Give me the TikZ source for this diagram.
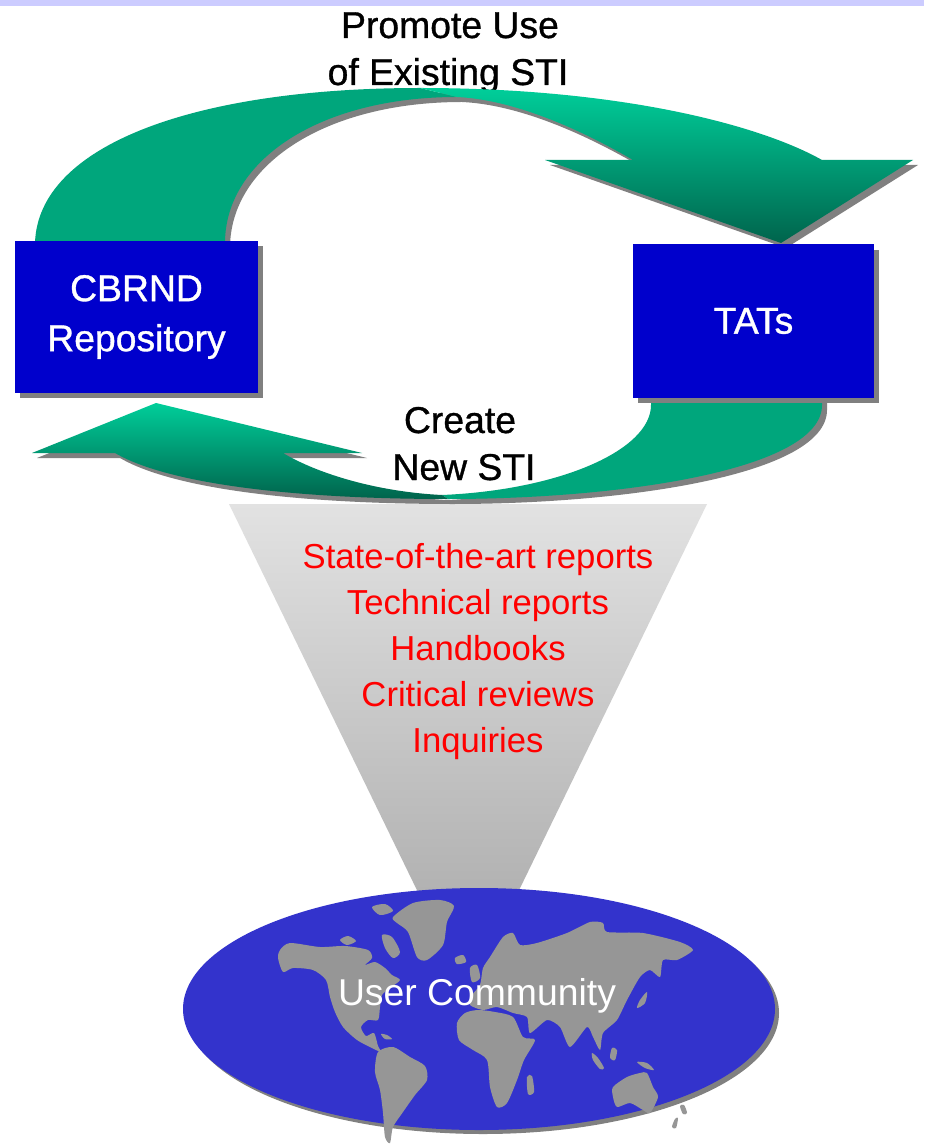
\documentclass[tikz,border=0pt]{standalone}
\usepackage{fontspec}
\setmainfont{Liberation Sans}
\newfontfamily\heavyfont{Liberation Sans}[FakeBold=0.9]
\usetikzlibrary{shadows}
\definecolor{boxblue}{RGB}{0,0,204}
\definecolor{shadowgray}{RGB}{128,128,128}
\definecolor{ringgreen}{RGB}{0,166,124}
\definecolor{ringlight}{RGB}{0,206,154}
\definecolor{ringdark}{RGB}{0,100,76}
\definecolor{globeblue}{RGB}{51,51,204}
\definecolor{landgray}{RGB}{150,150,150}
\definecolor{stripe}{RGB}{204,204,255}
\definecolor{funneltop}{RGB}{226,226,226}
\definecolor{funnelbottom}{RGB}{165,165,165}
\definecolor{itemred}{RGB}{255,0,0}
\begin{document}
\begin{tikzpicture}[x=0.75pt,y=-0.75pt,
  lbl/.style={font=\heavyfont\fontsize{28}{37.5}\selectfont, inner sep=0pt, anchor=base},
  item/.style={font=\fontsize{26}{34}\selectfont, text=itemred, inner sep=0pt, anchor=base},
  globelbl/.style={font=\fontsize{28}{37.5}\selectfont, text=white, inner sep=0pt, anchor=base},
  stibox/.style={fill=boxblue, text=white, inner sep=0pt, align=center,
    font=\heavyfont\fontsize{28}{37.5}\selectfont,
    drop shadow={shadow xshift=3.75pt, shadow yshift=-4pt, fill=shadowgray, opacity=1}},
  land/.style={fill=landgray},
  ringshadow/.style={fill=shadowgray},
  ringsolid/.style={fill=ringgreen},
  ringshade/.style={top color=ringlight, bottom color=ringdark}]
\useasboundingbox (0,0) rectangle (924,1144);
\fill[white] (0,0) rectangle (924,1144);
% top stripe
\fill[stripe] (0,0) rectangle (924,6);
% top label
\node[lbl] (promote) at (450,38) {Promote Use};
\node[lbl] (existing) at (448,85) {of Existing STI};
% funnel
\shade[top color=funneltop, bottom color=funnelbottom] (229,504) -- (707,504) -- (468,995) -- cycle;
% top arrow
\fill[ringshadow, shift={(5,5)}] (35,250) -- (35,243) .. controls (38,145) and (195,88) .. (420,88)
  .. controls (620,88) and (760,125) .. (822,160) -- (913,160) -- (781,243) -- (545,160) -- (633,160)
  .. controls (590,135) and (520,100) .. (457,97) .. controls (320,97) and (225,160) .. (225,243) -- (225,250) -- cycle;
\fill[ringsolid] (35,250) -- (35,243) .. controls (38,145) and (195,88) .. (420,88) -- (457,97)
  .. controls (320,97) and (225,160) .. (225,243) -- (225,250) -- cycle;
\shade[ringshade] (420,88) .. controls (620,88) and (760,125) .. (822,160) -- (913,160) -- (781,243)
  -- (545,160) -- (633,160) .. controls (590,135) and (520,100) .. (457,97) -- cycle;
% bottom arrow
\fill[ringshadow, shift={(5,5)}] (156,403) -- (362,453) -- (283,453) .. controls (320,475) and (380,492) .. (442,495)
  .. controls (560,490) and (651,450) .. (651,405) -- (651,398) -- (822,398) -- (822,405)
  .. controls (822,470) and (620,499) .. (448,499) .. controls (300,499) and (170,485) .. (115,453) -- (32,453) -- cycle;
\fill[ringsolid] (442,495) .. controls (560,490) and (651,450) .. (651,405) -- (651,398) -- (822,398) -- (822,405)
  .. controls (822,470) and (620,499) .. (448,499) -- cycle;
\shade[ringshade] (156,403) -- (362,453) -- (283,453) .. controls (320,475) and (380,492) .. (442,495)
  -- (448,499) .. controls (300,499) and (170,485) .. (115,453) -- (32,453) -- cycle;
% boxes
\node[stibox, minimum width=182.25pt, minimum height=114pt] (cbrnd) at (136.5,317) {CBRND\\Repository};
\node[stibox, minimum width=180.75pt, minimum height=114.75pt] (tats) at (753.5,321) {TATs};
% bottom label
\node[lbl] (create) at (460,433) {Create};
\node[lbl] (newsti) at (464,480) {New STI};
% red items
\node[item] (i1) at (478,568) {State-of-the-art reports};
\node[item] (i2) at (478,614) {Technical reports};
\node[item] (i3) at (478,660) {Handbooks};
\node[item] (i4) at (478,706) {Critical reviews};
\node[item] (i5) at (478,752) {Inquiries};
% globe
\fill[shadowgray] (483,1013) ellipse [x radius=222pt, y radius=90.75pt];
\fill[globeblue] (479,1009) ellipse [x radius=222pt, y radius=90.75pt];
% continents
\fill[land] plot[smooth cycle, tension=0.45] coordinates {(280,950) (290,943) (320,947) (345,946) (368,950) (372,958) (365,965) (375,962) (385,968) (392,975) (400,980) (390,988) (382,995) (380,1007) (378,1020) (368,1020) (361,1027) (366,1036) (374,1033) (378,1046) (381,1052) (372,1048) (357,1040) (343,1027) (335,1012) (330,997) (326,980) (313,970) (293,968) (283,972) (278,958)};
\fill[land] plot[smooth cycle, tension=0.45] coordinates {(393,917) (413,903) (440,900) (454,906) (447,922) (443,945) (427,960) (417,957) (408,932) (397,923)};
\fill[land] plot[smooth cycle, tension=0.5] coordinates {(340,940) (348,936) (356,941) (347,945)};
\fill[land] plot[smooth cycle, tension=0.5] coordinates {(372,907) (385,904) (393,911) (380,915)};
\fill[land] plot[smooth cycle, tension=0.5] coordinates {(382,935) (392,937) (400,952) (393,958) (385,948)};
\fill[land] plot[smooth cycle, tension=0.5] coordinates {(381,1034) (387,1035) (392,1039) (385,1039)};
\fill[land] plot[smooth cycle, tension=0.45] coordinates {(378,1052) (393,1047) (410,1057) (425,1066) (427,1080) (415,1095) (403,1112) (393,1127) (390,1143) (385,1137) (383,1113) (380,1090) (375,1072)};
\fill[land] plot[smooth cycle, tension=0.4] coordinates {(470,1005) (472,995) (480,985) (483,968) (490,957) (503,937) (513,933) (520,945) (537,943) (567,933) (590,922) (603,923) (607,932) (643,933) (680,942) (693,950) (677,960) (663,960) (660,977) (650,970) (640,977) (627,1000) (617,1020) (603,1033) (600,1050) (593,1037) (587,1027) (570,1047) (560,1027) (547,1020) (530,1033) (527,1017) (513,1013) (497,1007) (483,1010)};
\fill[land] plot[smooth cycle, tension=0.5] coordinates {(470,968) (477,965) (480,978) (472,982)};
\fill[land] plot[smooth cycle, tension=0.5] coordinates {(455,958) (463,955) (466,962) (457,964)};
\fill[land] plot[smooth cycle, tension=0.45] coordinates {(457,1023) (465,1013) (478,1010) (495,1012) (513,1017) (523,1037) (535,1040) (524,1060) (517,1080) (507,1103) (497,1107) (490,1087) (487,1060) (473,1050) (459,1040)};
\fill[land] plot[smooth cycle, tension=0.5] coordinates {(527,1077) (532,1076) (534,1092) (528,1094)};
\fill[land] plot[smooth cycle, tension=0.45] coordinates {(613,1087) (627,1077) (640,1073) (647,1073) (653,1087) (658,1097) (650,1113) (643,1110) (630,1103) (617,1107) (613,1097)};
\fill[land] plot[smooth cycle, tension=0.5] coordinates {(637,1062) (647,1063) (654,1070) (645,1068)};
\fill[land] plot[smooth cycle, tension=0.5] coordinates {(647,992) (645,1003) (637,1008) (640,1000)};
\fill[land] plot[smooth cycle, tension=0.5] coordinates {(592,1053) (598,1058) (604,1068) (600,1069) (593,1060)};
\fill[land] plot[smooth cycle, tension=0.5] coordinates {(612,1048) (617,1050) (615,1060) (610,1058)};
\fill[land] plot[smooth cycle, tension=0.5] coordinates {(680,1106) (684,1105) (687,1113) (683,1114)};
\fill[land] plot[smooth cycle, tension=0.5] coordinates {(675,1119) (678,1118) (676,1128) (672,1127)};
\node[globelbl] (users) at (477,1005) {User Community};
\end{tikzpicture}
\end{document}
